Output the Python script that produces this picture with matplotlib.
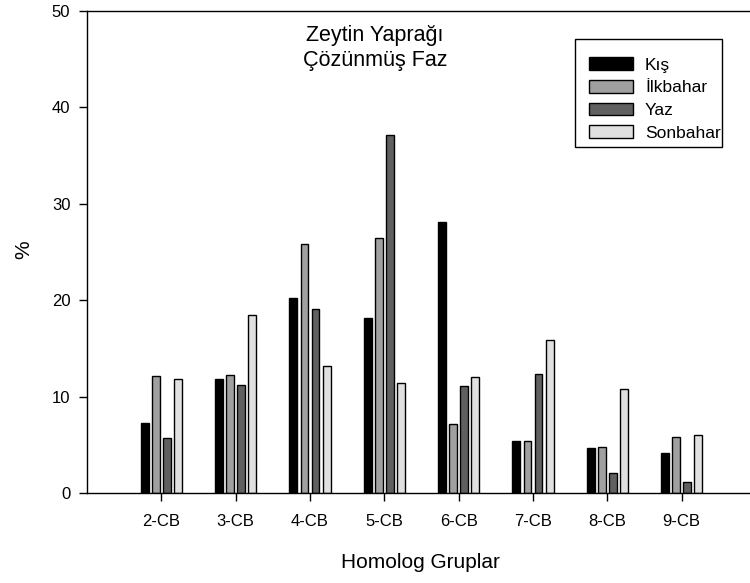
import numpy as np
import matplotlib
matplotlib.use("Agg")
import matplotlib.pyplot as plt
from matplotlib.patches import Rectangle

plt.rcParams['font.family'] = ['Liberation Sans', 'DejaVu Sans']

# Veriler
groups = ['2-CB', '3-CB', '4-CB', '5-CB', '6-CB', '7-CB', '8-CB', '9-CB']
kis = [7.3, 11.8, 20.2, 18.2, 28.1, 5.4, 4.7, 4.15]
ilkbahar = [12.1, 12.2, 25.8, 26.5, 7.2, 5.4, 4.8, 5.85]
yaz = [5.75, 11.25, 19.1, 37.1, 11.1, 12.3, 2.1, 1.1]
sonbahar = [11.85, 18.5, 13.2, 11.4, 12.0, 15.9, 10.8, 6.05]

series = [('Kış', kis, '#000000'),
          ('İlkbahar', ilkbahar, '#a0a0a0'),
          ('Yaz', yaz, '#606060'),
          ('Sonbahar', sonbahar, '#e0e0e0')]

fig = plt.figure(figsize=(7.5, 5.83), dpi=100)
ax = fig.add_axes([0.116, 0.1544, 0.892, 0.8266])

x = np.arange(2, 2 + len(groups))
offsets = [-0.225, -0.075, 0.075, 0.225]
width = 0.105
for (name, vals, col), off in zip(series, offsets):
    ax.bar(x + off, vals, width, color=col, edgecolor='black', linewidth=1.0, label=name)

ax.set_xlim(1, 10)
ax.set_ylim(0, 50)
ax.set_xticks(x)
ax.set_xticklabels(groups)
ax.set_yticks([0, 10, 20, 30, 40, 50])
ax.tick_params(axis='both', direction='out', length=6, width=1, labelsize=12)
ax.tick_params(axis='x', pad=9)
ax.tick_params(axis='y', pad=6)
for sp in ax.spines.values():
    sp.set_linewidth(1)

# eksen başlıkları
fig.text(0.561, 0.036, 'Homolog Gruplar', ha='center', va='center', fontsize=15)
fig.text(0.031, 0.571, '%', ha='center', va='center', rotation=90, fontsize=15)

fig.text(0.5, 0.939, 'Zeytin Yaprağı', ha='center', va='center', fontsize=15.5)
fig.text(0.5, 0.896, 'Çözünmüş Faz', ha='center', va='center', fontsize=15.5)

# lejant: çerçeve ayrı çiziliyor
ax.add_patch(Rectangle((0.7294, 0.7178), 0.2197, 0.2241, transform=ax.transAxes,
                       facecolor='white', edgecolor='black', linewidth=1, zorder=4))
leg = ax.legend(loc='upper left', bbox_to_anchor=(0.7504, 0.904), fontsize=12.5,
                frameon=False, handlelength=2.53, handleheight=0.75, labelspacing=0.42,
                borderpad=0, handletextpad=0.69, borderaxespad=0)
leg.set_zorder(5)

fig.savefig('out.png', dpi=100)
